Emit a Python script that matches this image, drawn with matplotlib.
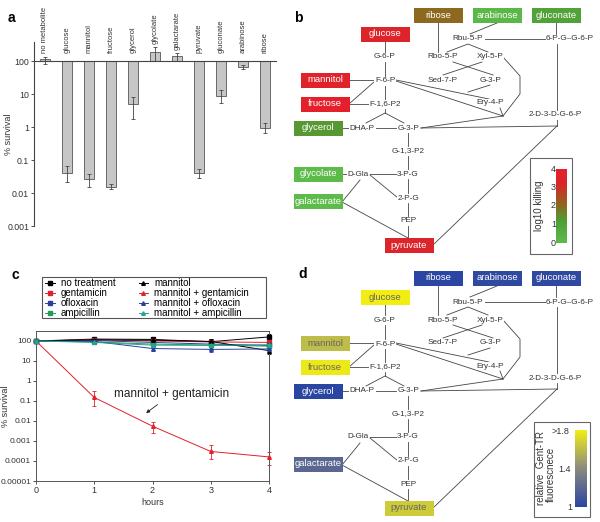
import numpy as np
import matplotlib
matplotlib.use('Agg')
import matplotlib.pyplot as plt
from matplotlib.colors import LinearSegmentedColormap, Normalize
from matplotlib.patches import Rectangle

plt.rcParams['font.family'] = ['Liberation Sans', 'DejaVu Sans']

# ---------------- Panel a data ----------------
metabolites = ['no metabolite', 'glucose', 'mannitol', 'fructose', 'glycerol', 'glycolate',
               'galactarate', 'pyruvate', 'gluconate', 'arabinose', 'ribose']
survival = [115, 0.041, 0.026, 0.0155, 4.9, 185, 142, 0.040, 8.9, 67, 0.95]
survival_lo = [82, 0.021, 0.015, 0.013, 1.8, 100, 100, 0.029, 5.5, 58, 0.65]
survival_hi = [130, 0.065, 0.038, 0.019, 7.9, 260, 171, 0.053, 13.2, 78, 1.3]

# ---------------- Panel c data ----------------
hours = [0, 1, 2, 3, 4]
series_labels = ['no treatment', 'gentamicin', 'ofloxacin', 'ampicillin',
                 'mannitol', 'mannitol + gentamicin', 'mannitol + ofloxacin', 'mannitol + ampicillin']
no_treatment = [100, 125, 120, 92, 160]
gentamicin = [100, 115, 100, 90, 85]
ofloxacin = [100, 105, 85, 70, 60]
ampicillin = [100, 90, 70, 63, 55]
mannitol = [100, 115, 110, 95, 33]
mannitol_gent = [100, 0.15, 0.0055, 0.0003, 0.00016]
mannitol_oflox = [100, 95, 42, 38, 40]
mannitol_amp = [100, 85, 62, 60, 65]
mannitol_gent_lo = [100, 0.055, 0.0025, 0.00012, 0.00006]
mannitol_gent_hi = [100, 0.30, 0.009, 0.0006, 0.00028]
other_rel_err = [0.0, 0.12, 0.2, 0.3, 0.35]

# ---------------- Panel d data ----------------
fluor_metabolites = ['glucose', 'mannitol', 'fructose', 'glycerol', 'galactarate',
                     'pyruvate', 'ribose', 'arabinose', 'gluconate']
fluor_values = [1.85, 1.6, 1.78, 1.0, 1.2, 1.66, 1.0, 1.02, 1.02]

# ---------------- Figure ----------------
fig = plt.figure(figsize=(6.0, 5.22), dpi=100)
W, H = 600.0, 522.0

def fig_rect(x0, y0, x1, y1):
    return [x0 / W, 1 - y1 / H, (x1 - x0) / W, (y1 - y0) / H]

ax_bg = fig.add_axes([0, 0, 1, 1])
ax_bg.axis('off')

TXT = '#333333'

# ---------------- Panel a ----------------
ax_a = fig.add_axes(fig_rect(34, 42, 277, 226))
x = np.arange(len(metabolites))
vals = np.array(survival)
ax_a.bar(x, vals - 100, bottom=100, width=0.44, color='#c6c6c6', edgecolor='#555555', linewidth=0.6, zorder=2)
lo = vals - np.array(survival_lo)
hi = np.array(survival_hi) - vals
ax_a.errorbar(x, vals, yerr=[lo, hi], fmt='none', ecolor='#444444', elinewidth=0.6, capsize=1.5,
              capthick=0.6, zorder=3)
ax_a.set_yscale('log')
ax_a.set_ylim(0.001, 377)
ax_a.set_xlim(-0.5, 10.55)
ax_a.axhline(100, color='#444444', lw=0.8, zorder=4)
for s in ['top', 'right', 'bottom']:
    ax_a.spines[s].set_visible(False)
ax_a.spines['left'].set_color('#444444')
ax_a.spines['left'].set_linewidth(0.8)
ax_a.set_xticks([])
ax_a.set_yticks([100, 10, 1, 0.1, 0.01, 0.001])
ax_a.set_yticklabels(['100', '10', '1', '0.1', '0.01', '0.001'])
ax_a.yaxis.set_minor_locator(matplotlib.ticker.NullLocator())
ax_a.tick_params(axis='y', labelsize=6.3, length=2, width=0.6, pad=1.5, colors=TXT)
ax_a.set_ylabel('% survival', fontsize=6.5, color=TXT)
ax_a.yaxis.set_label_coords(-0.085, 0.5)
for i, name in enumerate(metabolites):
    ytop = max(175, survival_hi[i] * 1.3)
    ax_a.text(i, ytop, name, rotation=90, ha='center', va='bottom', fontsize=5.5, color=TXT,
              clip_on=False)

# ---------------- Panel c ----------------
ax_c = fig.add_axes(fig_rect(36, 331, 269, 481))
series = [no_treatment, gentamicin, ofloxacin, ampicillin, mannitol, mannitol_gent, mannitol_oflox, mannitol_amp]
colors = ['#000000', '#e0202c', '#2b3f9e', '#1f9e57', '#000000', '#e0202c', '#2b3f9e', '#25a38f']
markers = ['s', 's', 's', 's', '^', '^', '^', '^']
handles = []
for yv, c, m, lab in zip(series, colors, markers, series_labels):
    yv = np.array(yv, dtype=float)
    if lab == 'mannitol + gentamicin':
        yl = yv - np.array(mannitol_gent_lo)
        yh = np.array(mannitol_gent_hi) - yv
    else:
        rel = np.array(other_rel_err)
        yl = yv * rel
        yh = yv * rel
    ax_c.errorbar(hours, yv, yerr=[yl, yh], fmt='none', ecolor=c, elinewidth=0.6, capsize=1.2,
                  capthick=0.6, zorder=2, clip_on=False)
    h, = ax_c.plot(hours, yv, color=c, marker=m, markersize=2.6, lw=0.7, zorder=3, clip_on=False,
                   label=lab)
    handles.append(h)
ax_c.set_yscale('log')
ax_c.set_ylim(1e-5, 316)
ax_c.set_xlim(0, 4)
ax_c.set_xticks(hours)
ax_c.set_yticks([100, 10, 1, 0.1, 0.01, 0.001, 0.0001, 0.00001])
ax_c.set_yticklabels(['100', '10', '1', '0.1', '0.01', '0.001', '0.0001', '0.00001'])
ax_c.yaxis.set_minor_locator(matplotlib.ticker.NullLocator())
ax_c.tick_params(labelsize=6, length=2, width=0.6, pad=1.5, colors=TXT)
ax_c.tick_params(axis='x', labelsize=6.5)
for s in ax_c.spines.values():
    s.set_color('#555555')
    s.set_linewidth(0.7)
ax_c.set_xlabel('hours', fontsize=6.5, labelpad=2, color=TXT)
ax_c.set_ylabel('% survival', fontsize=6.5, color=TXT)
ax_c.yaxis.set_label_coords(-0.11, 0.5)
ax_c.annotate('mannitol + gentamicin', xy=(1.89, 0.025), xytext=(2.33, 0.22),
              fontsize=8.5, ha='center', va='center', color='#222222',
              arrowprops=dict(arrowstyle='-|>', color='#222222', lw=0.6, mutation_scale=5,
                              shrinkA=2, shrinkB=0))
leg = fig.legend(handles=handles, loc='upper left', bbox_to_anchor=(45 / W, 1 - 278 / H), ncol=2,
                 fontsize=7, frameon=False, handlelength=1.0, handletextpad=0.6,
                 labelspacing=0.0, columnspacing=2.4, borderpad=0.0, borderaxespad=0)
ax_bg.add_patch(Rectangle((42, 277), 224, 41, facecolor='none', edgecolor='#555555', lw=0.8, zorder=2))

# ---------------- Pathway diagrams ----------------
BW, BH = 49, 15
boxes = {
    'ribose': (438, 15), 'arabinose': (497, 15), 'gluconate': (556, 15),
    'glucose': (385, 34), 'mannitol': (325, 80), 'fructose': (325, 104),
    'glycerol': (318, 128), 'glycolate': (318, 174), 'galactarate': (318, 201),
    'pyruvate': (409, 245),
}
nodes = [('G-6-P', 385, 57), ('F-6-P', 385, 81), ('F-1,6-P2', 385, 104), ('DHA-P', 362, 128),
         ('G-3-P', 408, 128), ('G-1,3-P2', 408, 151), ('3-P-G', 408, 174), ('D-Gla', 358, 174),
         ('2-P-G', 408, 198), ('PEP', 408, 221), ('Rbu-5-P', 468, 39), ('Rbo-5-P', 443, 57),
         ('Xyl-5-P', 490, 57), ('Sed-7-P', 443, 80), ('G-3-P', 490, 80), ('Ery-4-P', 490, 103),
         ('6-P-G\u2013G-6-P', 570, 39), ('2-D-3-D-G-6-P', 555, 115)]
edges = [
    [(385, 41), (385, 52)], [(385, 62), (385, 76)], [(385, 86), (385, 99)],
    [(349, 80), (373, 80)], [(349, 104), (374, 82)], [(349, 104), (370, 104)],
    [(385, 109), (385, 113)], [(366, 123), (385, 113), (404, 123)],
    [(342, 128), (349, 128)], [(376, 128), (396, 128)],
    [(421, 128), (557, 126)], [(421, 128), (503, 116)],
    [(408, 133), (408, 146)], [(408, 156), (408, 169)], [(408, 179), (408, 193)],
    [(408, 203), (408, 216)], [(408, 226), (408, 238)],
    [(370, 174), (397, 174)], [(370, 175), (398, 198)],
    [(342, 202), (360, 180)], [(342, 202), (408, 238)],
    [(433, 245), (557, 126)],
    [(557, 44), (557, 110)], [(557, 120), (557, 126)],
    [(556, 23), (556, 34)], [(485, 39), (546, 39)],
    [(497, 23), (470, 34)], [(438, 23), (438, 52)],
    [(447, 52), (468, 44), (488, 52)],
    [(453, 62), (493, 75)], [(482, 62), (443, 75)],
    [(490, 85), (468, 92)],
    [(396, 80), (489, 99)], [(396, 81), (503, 116)],
    [(503, 57), (520, 76), (520, 94), (503, 116)], [(500, 108), (503, 116)],
]
glycolate_edge = [(342, 174), (347, 174)]


def draw_pathway(ax, dy, box_colors, text_colors, with_glycolate):
    for e in edges + ([glycolate_edge] if with_glycolate else []):
        xs = [p[0] for p in e]
        ys = [p[1] + dy for p in e]
        ax.plot(xs, ys, color='#444444', lw=0.6, zorder=1)
    for lab, nx, ny in nodes:
        ax.text(nx, ny + dy, lab, fontsize=5.9, ha='center', va='center', color=TXT, zorder=3,
                bbox=dict(boxstyle='square,pad=0.05', fc='white', ec='none'))
    for name, (cx, cy) in boxes.items():
        if name not in box_colors:
            continue
        ax.add_patch(Rectangle((cx - BW / 2, cy + dy - BH / 2), BW, BH, facecolor=box_colors[name],
                               edgecolor='none', zorder=4))
        ax.text(cx, cy + dy, name, fontsize=6.8, ha='center', va='center', color=text_colors[name],
                zorder=5)


# Panel b colors from log10 killing (from panel a)
cmap_b = LinearSegmentedColormap.from_list('kill', [(0.0, '#5dbb4a'), (0.3, '#4f9f36'),
                                                    (0.5, '#8a6a1f'), (0.8, '#d8262a'),
                                                    (1.0, '#e81e2c')])
norm_b = Normalize(0, 4)
box_colors_b, text_colors_b = {}, {}
for name in boxes:
    i = metabolites.index(name)
    kill = np.clip(2 - np.log10(survival[i]), 0, 4)
    box_colors_b[name] = cmap_b(norm_b(kill))
    text_colors_b[name] = 'white'
draw_pathway(ax_bg, 0, box_colors_b, text_colors_b, True)

# Panel d colors from relative fluorescence
cmap_d = LinearSegmentedColormap.from_list('fl', [(0.0, '#2b46a2'), (0.5, '#8a8a80'), (1.0, '#f2ee14')])
norm_d = Normalize(1.0, 1.8)
box_colors_d, text_colors_d = {}, {}
for name, v in zip(fluor_metabolites, fluor_values):
    box_colors_d[name] = cmap_d(norm_d(min(v, 1.8)))
    text_colors_d[name] = 'white' if v < 1.4 else '#666666'
draw_pathway(ax_bg, 263, box_colors_d, text_colors_d, False)

# Colorbar b
grad = np.linspace(0, 1, 256).reshape(-1, 1)
ax_bg.add_patch(Rectangle((530, 158), 42, 96, facecolor='white', edgecolor='#666666', lw=0.8, zorder=2))
ax_bg.imshow(grad, extent=[556, 567, 243, 169], origin='upper', cmap=cmap_b.reversed(), aspect='auto', zorder=3)
for t in range(5):
    yy = 243 - t * (243 - 169) / 4
    ax_bg.text(556, yy, str(t), fontsize=6.5, ha='right', va='center', color=TXT, zorder=4)
ax_bg.text(539, 206, 'log10 killing', fontsize=7, rotation=90, ha='center', va='center', color=TXT, zorder=4)

# Colorbar d
ax_bg.add_patch(Rectangle((534, 422), 56, 95, facecolor='white', edgecolor='#666666', lw=0.8, zorder=2))
ax_bg.imshow(grad, extent=[575, 587, 507, 430], origin='upper', cmap=cmap_d.reversed(), aspect='auto', zorder=3)
ax_bg.text(569, 432, '>1.8', fontsize=6.5, ha='right', va='center', color=TXT, zorder=4)
ax_bg.text(571, 469, '1.4', fontsize=6.5, ha='right', va='center', color=TXT, zorder=4)
ax_bg.text(572, 507, '1', fontsize=6.5, ha='right', va='center', color=TXT, zorder=4)
ax_bg.text(541, 468, 'relative  Gent-TR', fontsize=7, rotation=90, ha='center', va='center', color=TXT, zorder=4)
ax_bg.text(551, 474, 'fluorescnece', fontsize=7, rotation=90, ha='center', va='center', color=TXT, zorder=4)

ax_bg.set_xlim(0, W)
ax_bg.set_ylim(H, 0)

# Panel letters
for lab, px, py in [('a', 8, 18), ('b', 294, 18), ('c', 12, 275), ('d', 298, 274)]:
    fig.text(px / W, 1 - py / H, lab, fontsize=10, fontweight='bold', ha='left', va='center')

fig.savefig('out.png', dpi=100)
